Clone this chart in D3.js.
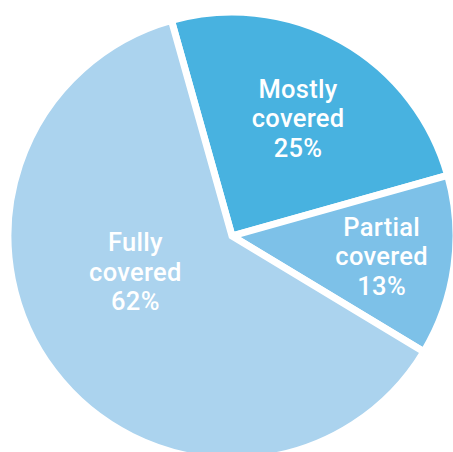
<!DOCTYPE html>
<html>
<head>
<meta charset="utf-8">
<script src="https://cdn.jsdelivr.net/npm/d3@7"></script>
<style>
  body { margin: 0; background: #fff; }
  svg text { font-family: Roboto, "DejaVu Sans", sans-serif; font-weight: 500; fill: #fff; }
</style>
</head>
<body>
<div id="chart"></div>
<script>
// Data
var categories = ["Mostly covered", "Partial covered", "Fully covered"];
var labelLines = [["Mostly", "covered"], ["Partial", "covered"], ["Fully", "covered"]];
var values = [25, 13, 62];
var colors = ["#48b2e0", "#7dc1e8", "#abd3ee"];

var width = 453, height = 452;
var cx = 232, cy = 236, radius = 224;

var svg = d3.select("#chart").append("svg")
    .attr("width", width)
    .attr("height", height);

var g = svg.append("g").attr("transform", "translate(" + cx + "," + cy + ")");

var startOffset = -15.7 * Math.PI / 180;

var pie = d3.pie().sort(null)
    .startAngle(startOffset)
    .endAngle(startOffset + 2 * Math.PI)
    .value(function(d) { return d; });

var arc = d3.arc().innerRadius(0).outerRadius(radius);

var arcs = pie(values);

g.selectAll("path").data(arcs).enter().append("path")
    .attr("d", arc)
    .attr("fill", function(d, i) { return colors[i]; })
    .attr("stroke", "#fff")
    .attr("stroke-width", 7)
    .attr("stroke-linejoin", "miter");

// label placement: radius and angle nudge per slice
var labelR = [135, 151, 103];
var labelNudge = [0, 0, 17 * Math.PI / 180];
var lineH = 29.5;

var labels = g.selectAll("g.label").data(arcs).enter().append("g")
    .attr("class", "label")
    .attr("transform", function(d, i) {
        var a = (d.startAngle + d.endAngle) / 2 + labelNudge[i];
        var x = labelR[i] * Math.sin(a), y = -labelR[i] * Math.cos(a);
        return "translate(" + x + "," + y + ")";
    });

labels.each(function(d, i) {
    var sel = d3.select(this);
    var lines = labelLines[i].concat([values[i] + "%"]);
    lines.forEach(function(t, j) {
        sel.append("text")
            .attr("text-anchor", "middle")
            .attr("y", (j - 1) * lineH + 9)
            .attr("font-size", 25.5)
            .attr("letter-spacing", 0.3)
            .text(t);
    });
});
</script>
</body>
</html>
